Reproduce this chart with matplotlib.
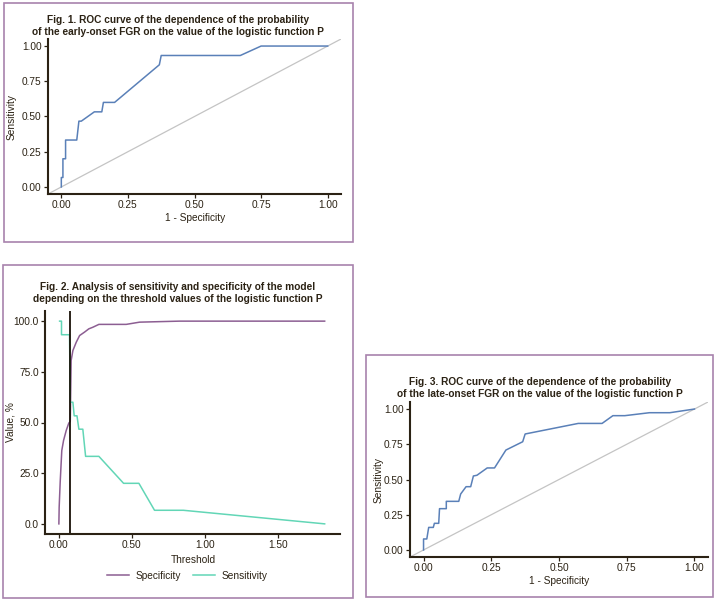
import matplotlib
matplotlib.use('Agg')
import matplotlib.pyplot as plt
from matplotlib.patches import Rectangle

plt.rcParams['font.family'] = ['Liberation Sans', 'DejaVu Sans']

# Fig. 1 - ROC, early-onset FGR
early_fpr = [0, 0, 0.006, 0.006, 0.016, 0.016, 0.058, 0.066, 0.075, 0.124, 0.152, 0.158,
             0.20, 0.368, 0.375, 0.672, 0.75, 1.0]
early_tpr = [0, 0.067, 0.067, 0.2, 0.2, 0.333, 0.333, 0.467, 0.467, 0.533, 0.533, 0.6,
             0.6, 0.867, 0.933, 0.933, 1.0, 1.0]

# Fig. 2 - sensitivity / specificity vs threshold
spec_thr = [0, 0.002, 0.009, 0.02, 0.032, 0.05, 0.068, 0.078, 0.084, 0.096, 0.119, 0.142,
            0.176, 0.205, 0.233, 0.274, 0.461, 0.553, 0.826, 1.82]
spec_val = [0, 8.2, 20.6, 36.2, 41.1, 46.0, 49.7, 50.5, 80.6, 85.5, 89.6, 92.9,
            94.6, 96.2, 97.0, 98.4, 98.4, 99.5, 100, 100]
sens_thr = [0.005, 0.018, 0.018, 0.073, 0.078, 0.096, 0.105, 0.124, 0.137, 0.164, 0.183,
            0.274, 0.443, 0.548, 0.655, 0.852, 1.82]
sens_val = [100, 100, 93.3, 93.3, 60.0, 60.0, 53.3, 53.3, 46.7, 46.7, 33.3,
            33.3, 20.0, 20.0, 6.7, 6.7, 0]
cutoff = 0.078

# Fig. 3 - ROC, late-onset FGR
late_fpr = [0, 0, 0.012, 0.019, 0.036, 0.04, 0.056, 0.059, 0.084, 0.084, 0.130, 0.137,
            0.157, 0.174, 0.184, 0.197, 0.235, 0.262, 0.304, 0.366, 0.375, 0.571, 0.659,
            0.699, 0.743, 0.834, 0.909, 1.0]
late_tpr = [0, 0.078, 0.078, 0.16, 0.16, 0.189, 0.189, 0.293, 0.293, 0.345, 0.345, 0.397,
            0.449, 0.449, 0.525, 0.53, 0.582, 0.582, 0.709, 0.768, 0.823, 0.898, 0.898,
            0.953, 0.953, 0.974, 0.974, 1.0]

W, H = 720, 600
ink = '#2b2214'
roc_col = '#5a80b8'
spec_col = '#8c5e92'
sens_col = '#62d6b6'
frame_col = '#a883ad'
fs = 7.3

fig = plt.figure(figsize=(7.2, 6), dpi=100)


def add_ax(x0, y0, x1, y1):
    # pixel box -> figure fractions
    return fig.add_axes([x0 / W, 1 - y1 / H, (x1 - x0) / W, (y1 - y0) / H])


def frame(x0, y0, x1, y1):
    fig.patches.append(Rectangle((x0 / W, 1 - y1 / H), (x1 - x0) / W, (y1 - y0) / H,
                                 transform=fig.transFigure, fill=False,
                                 edgecolor=frame_col, linewidth=1.2))


def style(ax):
    for s in ['top', 'right']:
        ax.spines[s].set_visible(False)
    for s in ['left', 'bottom']:
        ax.spines[s].set_color(ink)
        ax.spines[s].set_linewidth(1.5)
    ax.tick_params(colors=ink, labelsize=fs, length=3, width=0.9, pad=1.5)


def place_labels(ax, ylab_x, ylab_y, xlab_x, xlab_y):
    # label positions in pixels of the figure
    ax.yaxis.set_label_coords(ylab_x / W, 1 - ylab_y / H, transform=fig.transFigure)
    ax.xaxis.set_label_coords(xlab_x / W, 1 - xlab_y / H, transform=fig.transFigure)


def roc_panel(ax, fpr, tpr):
    ax.plot([-0.05, 1.05], [-0.05, 1.05], color='#c4c4c4', linewidth=0.9)
    ax.plot(fpr, tpr, color=roc_col, linewidth=1.1)
    ax.set_xlim(-0.05, 1.05)
    ax.set_ylim(-0.05, 1.05)
    ticks = [0, 0.25, 0.5, 0.75, 1.0]
    ax.set_xticks(ticks)
    ax.set_yticks(ticks)
    ax.set_xticklabels(['%.2f' % t for t in ticks])
    ax.set_yticklabels(['%.2f' % t for t in ticks])
    ax.set_xlabel('1 - Specificity', fontsize=fs, color=ink)
    ax.set_ylabel('Sensitivity', fontsize=fs, color=ink)
    style(ax)


# panel 1
frame(4, 3, 353, 242)
ax1 = add_ax(48, 39, 341, 194)
roc_panel(ax1, early_fpr, early_tpr)
place_labels(ax1, 17, 117, 195, 213)
fig.text(178 / W, 1 - 26 / H,
         'Fig. 1. ROC curve of the dependence of the probability\n'
         'of the early-onset FGR on the value of the logistic function P',
         ha='center', va='center', fontsize=fs, fontweight='bold', color=ink,
         linespacing=1.15)

# panel 2
frame(3, 265, 353, 598)
ax2 = add_ax(45, 311, 340, 534)
ax2.plot(spec_thr, spec_val, color=spec_col, linewidth=1.1, label='Specificity')
ax2.plot(sens_thr, sens_val, color=sens_col, linewidth=1.1, label='Sensitivity')
ax2.axvline(cutoff, color='#1a1208', linewidth=1.3)
ax2.set_xlim(-0.095, 1.925)
ax2.set_ylim(-5, 105)
ax2.set_xticks([0, 0.5, 1.0, 1.5])
ax2.set_xticklabels(['0.00', '0.50', '1.00', '1.50'])
ax2.set_yticks([0, 25, 50, 75, 100])
ax2.set_yticklabels(['0.0', '25.0', '50.0', '75.0', '100.0'])
ax2.set_xlabel('Threshold', fontsize=fs, color=ink)
ax2.set_ylabel('Value, %', fontsize=fs, color=ink)
style(ax2)
place_labels(ax2, 16, 422, 193, 555)
ax2.legend(loc='center', bbox_to_anchor=(187 / W, 1 - 576 / H),
           bbox_transform=fig.transFigure, ncol=2, frameon=False, fontsize=fs,
           handlelength=2.2, columnspacing=1.2, handletextpad=0.6,
           labelcolor=ink)
fig.text(178 / W, 1 - 293 / H,
         'Fig. 2. Analysis of sensitivity and specificity of the model\n'
         'depending on the threshold values of the logistic function P',
         ha='center', va='center', fontsize=fs, fontweight='bold', color=ink,
         linespacing=1.15)

# panel 3
frame(366, 355, 713, 597)
ax3 = add_ax(410, 402, 708, 557)
roc_panel(ax3, late_fpr, late_tpr)
place_labels(ax3, 384, 480, 559, 576)
fig.text(540 / W, 1 - 388 / H,
         'Fig. 3. ROC curve of the dependence of the probability\n'
         'of the late-onset FGR on the value of the logistic function P',
         ha='center', va='center', fontsize=fs, fontweight='bold', color=ink,
         linespacing=1.15)

fig.savefig('out.png', dpi=100, facecolor='white')
